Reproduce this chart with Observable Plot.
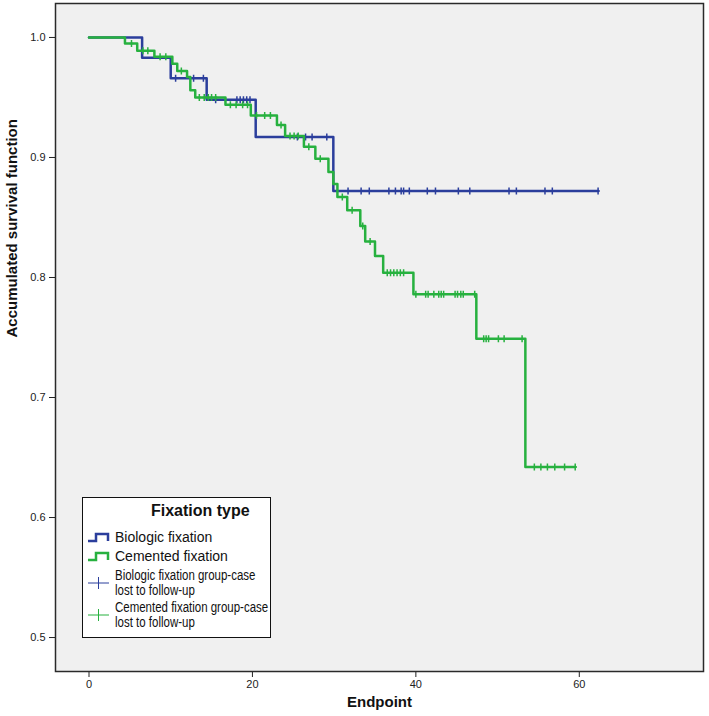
<!DOCTYPE html>
<html><head><meta charset="utf-8">
<script src="https://cdn.jsdelivr.net/npm/d3@7"></script>
<script src="https://cdn.jsdelivr.net/npm/@observablehq/plot@0.6"></script>
<style>
body{margin:0;background:#fff;font-family:"Liberation Sans",Arial,sans-serif;}
#wrap{position:relative;width:709px;height:716px;}
#legend{position:absolute;left:82px;top:497px;width:189px;height:141px;background:#fff;border:1.5px solid #111;box-sizing:border-box;color:#111;font-size:14px;}
#legend .title{position:absolute;left:68px;top:4px;font-weight:bold;font-size:16px;}
#legend .row{position:absolute;left:4px;display:flex;align-items:center;white-space:nowrap;}
#legend .row svg{flex:none;}
#legend .txt{margin-left:2px;line-height:15px;}
#legend .txt.long{display:inline-block;transform:scaleX(0.82);transform-origin:left center;}
</style>
</head><body>
<div id="wrap"></div>
<script>
// Biologic fixation (blue): step times and survival
const bioTimes = [0, 6.5, 10.0, 14.4, 20.4, 29.9, 62.3];
const bioSurv  = [1.0, 0.983, 0.966, 0.948, 0.917, 0.872, 0.872];
const bioCensor = [10.6, 12.8, 14.0, 15.5, 18.1, 18.5, 18.9, 19.3, 19.7, 25.5, 26.5, 27.3, 29.1,
  31.7, 33.3, 34.3, 36.7, 37.5, 38.2, 38.5, 39.2, 41.4, 42.4, 45.2, 46.6, 51.4, 52.3, 55.8, 56.7, 62.3];

// Cemented fixation (green)
const cemTimes = [0, 4.4, 5.9, 8.0, 10.2, 10.8, 12.0, 12.4, 13.0, 16.7, 19.8, 23.0, 24.0, 26.3, 27.7,
  29.3, 29.9, 30.4, 31.6, 33.2, 33.8, 35.0, 36.0, 39.7, 47.4, 53.4, 59.5];
const cemSurv  = [1.0, 0.995, 0.989, 0.984, 0.978, 0.972, 0.967, 0.956, 0.950, 0.944, 0.935, 0.927, 0.918, 0.909, 0.899,
  0.888, 0.878, 0.867, 0.856, 0.843, 0.830, 0.818, 0.804, 0.786, 0.749, 0.642, 0.642];
const cemCensor = [5.2, 6.6, 7.2, 8.7, 9.4, 11.3, 13.5, 14.1, 14.6, 15.0, 15.5, 17.3, 18.0, 18.8, 19.4,
  20.5, 21.5, 22.2, 23.5, 24.6, 25.1, 25.6, 26.9, 28.3, 31.0, 32.2, 33.5, 34.4,
  36.5, 36.9, 37.3, 37.7, 38.1, 38.5, 40.0, 41.2, 41.5, 42.2, 42.8, 43.1, 43.4, 44.8, 45.1, 45.5, 45.8, 47.2,
  48.3, 48.6, 48.9, 50.1, 50.8, 53.0, 54.5, 55.3, 56.1, 57.0, 58.2, 59.5];

const xTicks = [0, 20, 40, 60];
const yTicks = [0.5, 0.6, 0.7, 0.8, 0.9, 1.0];
const groupNames = ["Biologic fixation", "Cemented fixation"];
const blue = "#2b3e9c", green = "#27b13f";

const survAt = (times, surv, t) => { let v = surv[0]; for (let i = 0; i < times.length; i++) if (times[i] <= t) v = surv[i]; return v; };
const steps = (times, surv) => times.map((t, i) => ({t, s: surv[i]}));
const cens = (ct, times, surv) => ct.map(t => ({t, s: survAt(times, surv, t)}));

const vtick = {draw(ctx, size) { const h = Math.sqrt(size / Math.PI); ctx.moveTo(0, -h); ctx.lineTo(0, h); ctx.moveTo(-h*0.5, 0); ctx.lineTo(h*0.5, 0); }};

const chart = Plot.plot({
  width: 709, height: 716,
  marginLeft: 55, marginRight: 6, marginTop: 3, marginBottom: 45,
  style: {fontFamily: '"Liberation Sans", Arial, sans-serif', background: "#fff"},
  x: {domain: [-4.1, 75.2]},
  y: {domain: [0.4717, 1.0283]},
  marks: [
    Plot.frame({fill: "#f0f0f0"}),
    Plot.axisX({ticks: xTicks, tickSize: 6, tickPadding: 3, fontSize: 11, label: null, stroke: "#222", fill: "#222"}),
    Plot.axisY({ticks: yTicks, tickFormat: d3.format(".1f"), tickSize: 6, tickPadding: 4, fontSize: 11, label: null, stroke: "#222", fill: "#222"}),
    Plot.line(steps(bioTimes, bioSurv), {x: "t", y: "s", stroke: blue, strokeWidth: 2.5, curve: "step-after"}),
    Plot.dot(cens(bioCensor, bioTimes, bioSurv), {x: "t", y: "s", symbol: vtick, r: 3.5, stroke: blue, strokeWidth: 1.5, fill: "none"}),
    Plot.line(steps(cemTimes, cemSurv), {x: "t", y: "s", stroke: green, strokeWidth: 2.5, curve: "step-after"}),
    Plot.dot(cens(cemCensor, cemTimes, cemSurv), {x: "t", y: "s", symbol: vtick, r: 3.5, stroke: green, strokeWidth: 1.5, fill: "none"}),
    Plot.frame({stroke: "#2a2a2a", strokeWidth: 1.5}),
    Plot.text(["Accumulated survival function"], {frameAnchor: "left", rotate: -90, dx: -43, fontSize: 15, fontWeight: "bold", fill: "#111"}),
    Plot.text(["Endpoint"], {frameAnchor: "bottom", dy: 35, fontSize: 15, fontWeight: "bold", fill: "#111"})
  ]
});
const wrap = document.getElementById("wrap");
wrap.appendChild(chart);

// Legend overlay
const stepIcon = c => `<svg width="26" height="12"><path d="M1,9 H9 V2 H21 V9" fill="none" stroke="${c}" stroke-width="2.5"/></svg>`;
const plusIcon = c => `<svg width="26" height="14"><path d="M1,7 H22 M11.5,1 V13" fill="none" stroke="${c}" stroke-width="1"/></svg>`;
const lg = document.createElement("div");
lg.id = "legend";
lg.innerHTML = `<div class="title">Fixation type</div>
<div class="row" style="top:32px">${stepIcon(blue)}<span class="txt">${groupNames[0]}</span></div>
<div class="row" style="top:51px">${stepIcon(green)}<span class="txt">${groupNames[1]}</span></div>
<div class="row" style="top:70px">${plusIcon(blue)}<span class="txt long">${groupNames[0]} group-case<br>lost to follow-up</span></div>
<div class="row" style="top:102px">${plusIcon(green)}<span class="txt long">${groupNames[1]} group-case<br>lost to follow-up</span></div>`;
wrap.appendChild(lg);
</script>
</body></html>
